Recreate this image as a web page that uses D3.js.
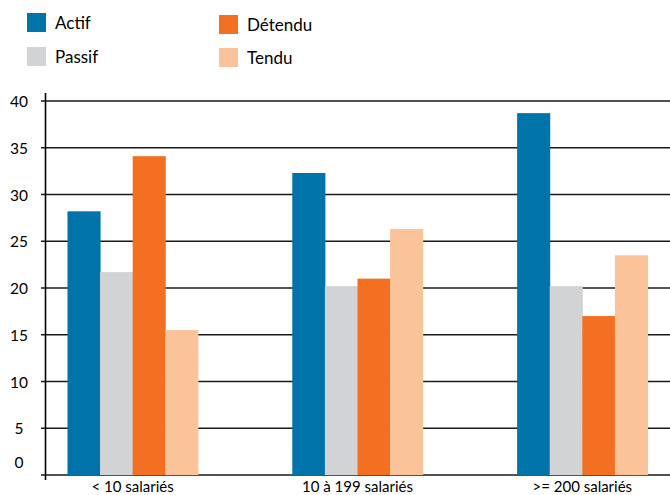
<!DOCTYPE html>
<html>
<head>
<meta charset="utf-8">
<script src="https://cdn.jsdelivr.net/npm/d3@7"></script>
<style>
    body { margin: 0; background: #fff; }
    text { font-family: Lato, "Open Sans", sans-serif; fill: #000; }
</style>
</head>
<body>
<div id="chart"></div>
<script>
// categories and series
const categories = ["< 10 salariés", "10 à 199 salariés", ">= 200 salariés"];
const seriesNames = ["Actif", "Passif", "Détendu", "Tendu"];
const actif = [28.2, 32.3, 38.7];
const passif = [21.7, 20.2, 20.2];
const detendu = [34.1, 21.0, 17.0];
const tendu = [15.5, 26.3, 23.5];
const yTicks = [0, 5, 10, 15, 20, 25, 30, 35, 40];

const colors = ["#0073a9", "#d1d3d4", "#f37022", "#fbc39a"];
const allSeries = [actif, passif, detendu, tendu];

const width = 670;
const height = 495;

const svg = d3
    .select("#chart")
    .append("svg")
    .attr("width", width)
    .attr("height", height);

// scales
const x0 = d3
    .scaleBand()
    .domain(categories)
    .range([45, 670])
    .paddingInner(0.42)
    .paddingOuter(0.1);

const x1 = d3
    .scaleBand()
    .domain(seriesNames)
    .range([0, x0.bandwidth()]);

const y = d3.scaleLinear().domain([0, 40]).range([475, 101]);

// gridlines
svg.append("g")
    .selectAll("line")
    .data(yTicks)
    .enter()
    .append("line")
    .attr("x1", 41)
    .attr("x2", width)
    .attr("y1", (d) => y(d))
    .attr("y2", (d) => y(d))
    .attr("stroke", "#1a1a1a")
    .attr("stroke-width", 1.6);

// bars
const data = [];
categories.forEach((c, i) => {
    seriesNames.forEach((s, j) => {
        data.push({ cat: c, series: s, value: allSeries[j][i], color: colors[j] });
    });
});

svg.append("g")
    .selectAll("rect")
    .data(data)
    .enter()
    .append("rect")
    .attr("x", (d) => x0(d.cat) + x1(d.series))
    .attr("y", (d) => y(d.value))
    .attr("width", x1.bandwidth() + 0.5)
    .attr("height", (d) => y(0) - y(d.value))
    .attr("fill", (d) => d.color);

// y axis line
svg.append("line")
    .attr("x1", 45.5)
    .attr("x2", 45.5)
    .attr("y1", 93)
    .attr("y2", 480)
    .attr("stroke", "#000")
    .attr("stroke-width", 1.6);

// y tick labels
svg.append("g")
    .selectAll("text")
    .data(yTicks)
    .enter()
    .append("text")
    .attr("x", 19)
    .attr("y", (d) => y(d))
    .attr("dy", (d) => (d === 0 ? "-0.45em" : "0.4em"))
    .attr("text-anchor", "middle")
    .style("font-size", "15.5px")
    .text((d) => d);

// x labels
svg.append("g")
    .selectAll("text")
    .data(categories)
    .enter()
    .append("text")
    .attr("x", (d) => x0(d) + x0.bandwidth() / 2)
    .attr("y", 492)
    .attr("text-anchor", "middle")
    .style("font-size", "15px")
    .text((d) => d);

// legend
const legendPos = [
    { x: 27, y: 13 },
    { x: 27, y: 47 },
    { x: 219, y: 15 },
    { x: 219, y: 48 },
];
const legend = svg
    .append("g")
    .selectAll("g")
    .data(seriesNames)
    .enter()
    .append("g")
    .attr("transform", (d, i) => `translate(${legendPos[i].x},${legendPos[i].y})`);

legend
    .append("rect")
    .attr("width", 19)
    .attr("height", 19)
    .attr("fill", (d, i) => colors[i]);

legend
    .append("text")
    .attr("x", 28)
    .attr("y", 16)
    .style("font-size", "17px")
    .text((d) => d);
</script>
</body>
</html>
